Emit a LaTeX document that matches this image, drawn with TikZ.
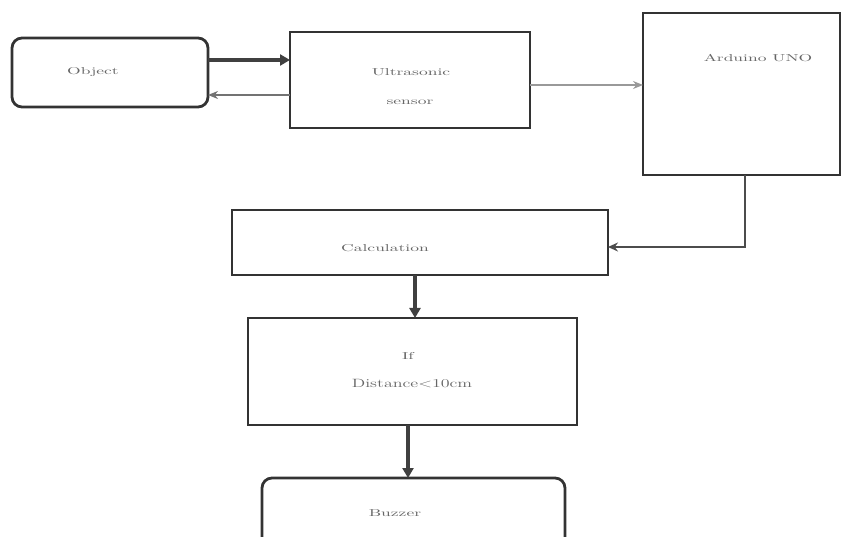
\documentclass[tikz,border=0pt]{standalone}
\usetikzlibrary{arrows.meta}
\newcommand{\wideTxt}[1]{\scalebox{1.75}[1]{#1}}
\begin{document}
\begin{tikzpicture}[x=1pt,y=-1pt,
  blk/.style={draw=black!80, line width=2.8pt, fill=white, inner sep=0pt},
  rblk/.style={blk, rounded corners=10pt},
  lbl/.style={font=\fontsize{10}{12}\selectfont, text=black!60, align=center, inner sep=1pt},
  thick arrow/.style={draw=black!75, line width=3.4pt, -{Triangle[length=10pt,width=11pt]}},
  thin arrow/.style={draw=black!55, line width=1.8pt, -{Stealth[length=10pt,width=8pt]}}]
\useasboundingbox (0,0) rectangle (841,537);
% boxes
\draw[rblk] (12,38) rectangle (208,107);
\draw[blk] (290,32) rectangle (530,128);
\draw[blk] (643,13) rectangle (840,175);
\draw[blk] (232,210) rectangle (608,275);
\draw[blk] (248,318) rectangle (577,425);
\draw[rblk] (262,478) rectangle (565,548);
% texts
\node[lbl] (a) at (93,72) {\wideTxt{Object}};
\node[lbl] (b1) at (411,72) {\wideTxt{Ultrasonic}};
\node[lbl] (b2) at (410,102) {\wideTxt{sensor}};
\node[lbl] (c) at (758,58) {\wideTxt{Arduino UNO}};
\node[lbl] (d) at (385,248) {\wideTxt{Calculation}};
\node[lbl] (e1) at (408,356) {\wideTxt{If}};
\node[lbl, font=\fontsize{12}{14}\selectfont] (e2) at (412,384) {\scalebox{1.5}[1]{Distance<10cm}};
\node[lbl] (f) at (395,513) {\wideTxt{Buzzer}};
% connector anchors
\coordinate (A1) at (208,60);  \coordinate (B1) at (290,60);
\coordinate (B2) at (290,95);  \coordinate (A2) at (208,95);
\coordinate (B3) at (530,85);  \coordinate (C1) at (643,85);
\coordinate (C2) at (745,175); \coordinate (D1) at (608,247);
\coordinate (D2) at (415,275); \coordinate (E1) at (415,318);
\coordinate (E2) at (408,425); \coordinate (F1) at (408,478);
% connectors
\draw[thick arrow] (A1) -- (B1);
\draw[thin arrow] (B2) -- (A2);
\draw[thin arrow, draw=black!40] (B3) -- (C1);
\draw[draw=black!70, line width=2.4pt, -{Stealth[length=10pt,width=9pt]}] (C2) |- (D1);
\draw[thick arrow] (D2) -- (E1);
\draw[thick arrow] (E2) -- (F1);
\end{tikzpicture}
\end{document}
